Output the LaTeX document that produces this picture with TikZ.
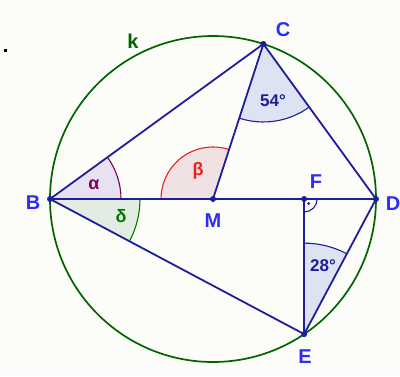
\documentclass[tikz,border=0pt]{standalone}
\usepackage{fontspec}
\setmainfont{Liberation Sans}
\usetikzlibrary{calc}
\definecolor{bg}{RGB}{252,252,248}
\definecolor{segblue}{RGB}{30,30,155}
\definecolor{lblblue}{RGB}{45,45,250}
\definecolor{circgreen}{RGB}{0,100,0}
\definecolor{agreen}{RGB}{0,120,0}
\definecolor{apurple}{RGB}{128,0,90}
\definecolor{ared}{RGB}{240,30,30}
\definecolor{fillblue}{RGB}{221,227,243}
\definecolor{fillpurple}{RGB}{232,226,240}
\definecolor{fillred}{RGB}{240,226,226}
\definecolor{fillgreen}{RGB}{226,236,226}
\tikzset{
  seg/.style={draw=segblue,line width=1.8pt},
  pt/.style={circle,fill=segblue,inner sep=0pt,minimum size=6pt},
  lbl/.style={text=lblblue,font=\fontsize{20}{20}\selectfont\bfseries,inner sep=0pt},
  albl/.style={font=\fontsize{18}{18}\selectfont\bfseries,inner sep=0pt},
  deglbl/.style={text=segblue,font=\fontsize{17}{17}\selectfont\bfseries,inner sep=0pt},
}
\begin{document}
\begin{tikzpicture}[x=1pt,y=1pt]
\useasboundingbox[fill=bg] (0,-376) rectangle (400,0);
% points
\coordinate (M) at (213,-199);
\coordinate (B) at (50,-199);
\coordinate (D) at (376,-199);
\coordinate (C) at ($(M)+(72:163)$);
\coordinate (E) at ($(M)+(-56:163)$);
\coordinate (F) at (E |- M);
% angle sectors
\fill[fillpurple] (B) -- ++(0:71) arc[start angle=0,end angle=36,radius=71] -- cycle;
\draw[apurple,line width=1.1pt] ($(B)+(0:71)$) arc[start angle=0,end angle=36,radius=71];
\fill[fillgreen] (B) -- ++(-28:90) arc[start angle=-28,end angle=0,radius=90] -- cycle;
\draw[agreen,line width=1.1pt] ($(B)+(-28:90)$) arc[start angle=-28,end angle=0,radius=90];
\fill[fillred] (M) -- ++(72:52) arc[start angle=72,end angle=180,radius=52] -- cycle;
\draw[ared,line width=1.1pt] ($(M)+(72:52)$) arc[start angle=72,end angle=180,radius=52];
\fill[fillblue] (C) -- ++(252:78) arc[start angle=252,end angle=306,radius=78] -- cycle;
\draw[segblue,line width=1.1pt] ($(C)+(252:78)$) arc[start angle=252,end angle=306,radius=78];
\fill[fillblue] (E) -- ++(62:91) arc[start angle=62,end angle=90,radius=91] -- cycle;
\draw[segblue,line width=1.1pt] ($(E)+(62:91)$) arc[start angle=62,end angle=90,radius=91];
\draw[segblue,line width=1.1pt] ($(F)+(-90:13)$) arc[start angle=-90,end angle=0,radius=13];
\fill[segblue] ($(F)+(-45:6.5)$) circle[radius=1.6];
% circle
\draw[circgreen,line width=1.7pt] (M) circle[radius=163];
% segments
\draw[seg] (B) -- (C);
\draw[seg] (C) -- (M);
\draw[seg] (C) -- (D);
\draw[seg] (B) -- (D);
\draw[seg] (B) -- (E);
\draw[seg] (E) -- (D);
\draw[seg] (F) -- (E);
% point dots
\foreach \p in {B,C,D,E,F,M} \node[pt] (d\p) at (\p) {};
% labels
\node[lbl] (lC) at (283,-30) {C};
\node[lbl] (lB) at (33,-203) {B};
\node[lbl] (lM) at (213,-221) {M};
\node[lbl] (lF) at (316,-182) {F};
\node[lbl] (lD) at (393,-204) {D};
\node[lbl] (lE) at (305,-357) {E};
\node[lbl,text=circgreen] (lk) at (133,-41) {k};
\node[albl,text=apurple] (la) at (94,-185) {α};
\node[albl,text=ared] (lb) at (198,-171) {β};
\node[albl,text=agreen] (ld) at (121,-216) {δ};
\node[deglbl] (l54) at (273,-101) {54°};
\node[deglbl] (l28) at (323,-266) {28°};
\fill[black] (3.5,-51.5) rectangle (6.5,-48.5);
\end{tikzpicture}
\end{document}
